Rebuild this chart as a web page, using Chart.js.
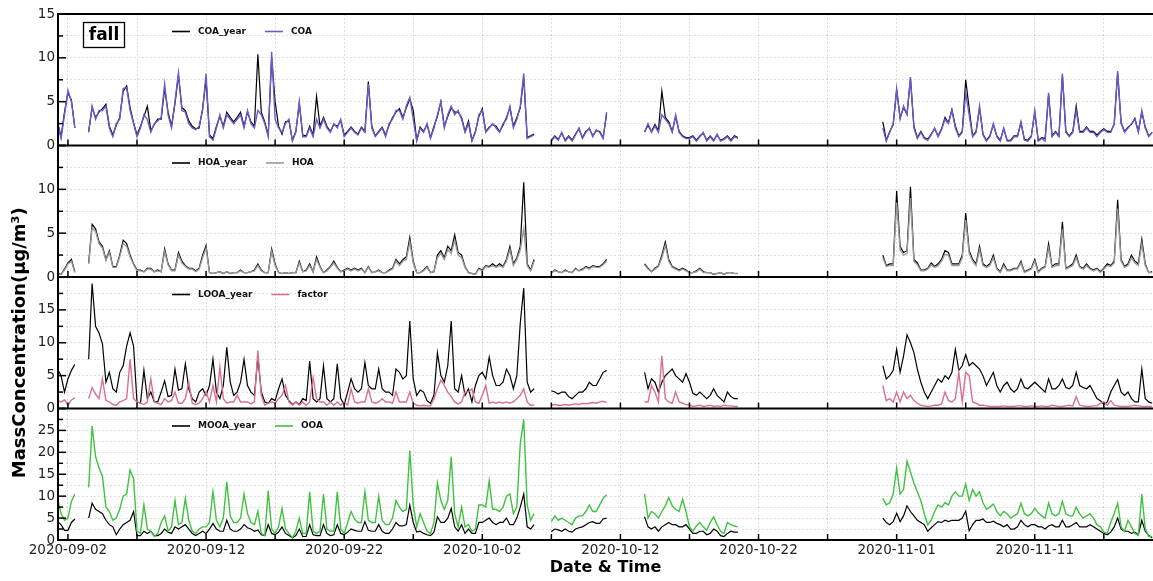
<!DOCTYPE html>
<html>
<head>
<meta charset="utf-8">
<script src="https://cdn.jsdelivr.net/npm/chart.js@4.4.1/dist/chart.umd.min.js"></script>
<style>
  html, body { margin: 0; padding: 0; background: #fff; }
  #wrap { width: 1153px; height: 581px; position: relative; }
</style>
</head>
<body>
<div id="wrap"><canvas id="c"></canvas></div>
<script>
// time axis: days after 2020-09-02 00:00, one value every 6 hours inside each measured block
const SEG_START = [-0.75, 1.5, 35.0, 41.75, 59.0];
const STEP = 0.25;

const COA = [
  [2.5,0.8,3.5, 6.3,5.0,2.0],
  [1.5,4.5,
   3.0,4.0,4.0,4.5, 2.0,1.0,2.5,3.0, 6.5,6.6,4.0,2.5, 1.0,2.0,3.5,3.0,
   1.5,2.5,2.8,3.2, 7.0,3.5,2.0,5.0, 8.3,4.0,3.8,2.5, 2.0,1.8,2.2,4.0,
   8.2,1.0,0.6,2.0, 3.5,2.0,3.5,3.0, 2.5,3.0,3.5,2.0, 4.0,2.5,2.0,4.0,
   3.5,2.5,1.0,10.7, 3.0,2.0,1.5,2.5, 3.0,0.5,1.5,5.0, 1.0,1.0,2.0,1.0,
   3.0,2.0,3.0,2.0, 1.5,2.5,2.0,3.0, 1.0,1.5,2.0,1.5, 1.2,2.0,1.5,7.0,
   2.0,1.0,1.5,2.0, 1.0,2.5,3.0,4.0, 4.0,3.0,4.5,5.5, 3.0,0.5,2.0,1.5,
   2.5,0.8,2.0,3.5, 5.0,2.0,3.5,4.5, 3.5,4.0,3.0,1.5, 2.5,0.5,1.5,3.5,
   4.0,1.5,2.0,2.5, 2.0,1.5,2.5,3.0, 4.5,2.0,3.0,4.5, 8.2,0.8,1.0,1.2],
  [0.5,1.0,0.6,1.5, 0.5,1.0,0.5,1.2, 2.0,0.8,1.5,2.0, 1.0,1.8,1.5,0.8, 3.8],
  [1.5, 2.5,1.5,2.2,1.5, 3.5,3.0,2.5,1.5, 3.5,1.5,1.0,0.8, 0.8,1.0,0.5,1.0, 1.5,0.5,1.0,0.5, 1.3,0.5,0.7,1.0, 0.5,1.0,0.8],
  [2.0,0.5,1.5,2.5, 6.5,3.0,4.5,3.5, 7.8,2.0,0.8,1.5, 0.8,0.6,1.2,2.0,
   1.0,1.8,3.0,2.5, 4.0,2.0,1.0,1.5, 6.0,3.5,1.0,1.5, 4.5,1.2,0.5,1.0,
   2.5,1.0,0.5,2.0, 0.5,0.5,1.0,1.0, 2.7,0.6,0.5,1.0, 4.0,0.5,0.8,0.5,
   6.0,1.0,1.5,1.0, 8.2,1.5,1.0,1.5, 4.0,1.5,1.5,2.0, 1.5,1.5,1.0,1.5,
   1.8,1.5,1.5,2.5, 8.5,2.5,1.5,2.0, 2.5,3.0,1.5,4.0, 2.0,1.0,1.5]
];
const COA_year = [
  [2.6,1.0,3.8, 6.0,5.2,2.0],
  [1.6,4.3,
   3.2,3.8,4.2,4.7, 2.2,1.2,2.3,3.2, 6.2,6.8,4.3,2.6, 1.2,2.2,3.3,4.5,
   1.7,2.4,3.0,3.0, 6.5,3.8,2.2,4.8, 8.0,4.3,4.0,2.8, 2.2,1.9,2.0,4.2,
   7.5,1.2,0.8,2.2, 3.3,2.2,3.8,3.2, 2.7,3.2,3.8,2.2, 3.8,2.7,2.2,10.4,
   3.8,2.7,1.2,10.0, 5.0,2.2,1.3,2.7, 2.8,0.6,1.6,4.8, 1.2,1.1,2.2,1.2,
   5.6,2.2,3.2,2.2, 1.6,2.4,2.2,2.8, 1.2,1.6,2.1,1.6, 1.3,2.1,1.6,7.3,
   2.2,1.1,1.6,2.1, 1.2,2.3,3.2,3.8, 4.2,3.2,4.3,5.3, 4.0,0.6,2.1,1.6,
   2.4,0.9,2.2,3.3, 5.0,2.2,3.3,4.3, 3.8,3.8,3.2,1.6, 2.8,0.6,1.6,3.3,
   4.2,1.6,2.1,2.4, 2.2,1.6,2.3,3.2, 4.3,2.2,3.2,4.3, 7.8,0.9,1.1,1.3],
  [0.6,1.1,0.7,1.4, 0.6,1.1,0.6,1.3, 1.9,0.9,1.6,1.9, 1.1,1.7,1.6,0.9, 3.6],
  [1.6, 2.3,1.6,2.4,1.7, 6.2,3.2,2.7,1.6, 3.3,1.6,1.1,0.9, 0.9,1.1,0.6,1.1, 1.4,0.6,1.1,0.6, 1.2,0.6,0.8,1.1, 0.6,1.1,0.9],
  [2.7,0.6,1.6,2.4, 6.3,3.2,4.3,3.6, 7.6,2.2,0.9,1.6, 0.9,0.7,1.3,1.9,
   1.1,1.9,3.2,2.6, 4.1,2.2,1.1,1.6, 7.5,4.2,1.1,1.6, 4.3,1.3,0.6,1.1,
   2.4,1.1,0.6,1.9, 0.6,0.6,1.1,1.1, 2.6,0.7,0.6,1.1, 3.8,0.6,0.9,0.8,
   5.8,1.1,1.6,1.1, 8.0,1.6,1.1,1.6, 4.5,1.6,1.6,2.1, 1.6,1.6,1.2,1.6,
   1.9,1.6,1.6,2.4, 8.3,2.6,1.6,2.1, 2.4,3.1,1.6,3.8, 2.1,1.1,1.5]
];
const HOA = [
  [0.3,0.3,0.8, 1.5,1.8,0.5],
  [1.5,5.6,
   5.2,3.8,3.3,1.9, 2.8,1.1,1.1,2.3, 3.8,3.5,2.3,1.4, 0.7,0.7,0.6,0.9,
   0.9,0.6,0.7,0.6, 2.9,1.4,0.7,0.7, 2.5,1.6,1.2,0.9, 0.9,0.6,0.9,2.2,
   3.3,0.5,0.4,0.5, 0.6,0.4,0.6,0.4, 0.5,0.5,0.7,0.5, 0.5,0.6,0.7,1.3,
   0.7,0.5,0.5,2.9, 1.3,0.5,0.4,0.5, 0.4,0.5,0.5,1.6, 0.6,0.7,1.3,0.6,
   2.0,1.1,0.5,0.7, 1.1,1.6,1.0,0.6, 0.7,0.9,0.7,0.9, 0.7,0.9,0.5,1.1,
   0.5,0.6,0.7,0.5, 0.5,0.7,0.9,1.8, 1.3,1.8,2.0,4.0, 1.6,0.5,0.5,0.7,
   1.1,0.5,0.6,2.2, 2.7,2.0,3.1,2.7, 4.2,2.5,2.2,1.1, 0.5,0.4,0.3,0.9,
   0.7,1.2,1.1,1.3, 1.1,1.3,1.1,1.8, 3.1,1.3,2.0,3.1, 5.5,1.3,0.7,1.8],
  [0.5,0.7,0.6,0.5, 0.7,0.6,0.5,0.9, 0.7,0.8,1.1,0.9, 1.2,1.1,1.1,1.4, 1.8],
  [1.4, 0.9,0.6,0.9,1.2, 2.2,3.6,1.8,1.1, 0.9,0.7,0.9,0.7, 0.5,0.5,0.6,0.9, 0.5,0.5,0.5,0.3, 0.4,0.5,0.3,0.5, 0.5,0.4,0.4],
  [2.2,1.2,1.3,1.3, 8.5,3.1,2.5,2.7, 9.0,1.8,1.4,0.7, 0.7,0.9,1.4,1.1,
   1.3,1.8,2.6,2.5, 1.3,1.3,1.3,2.2, 6.5,2.7,1.8,1.3, 3.1,1.3,1.1,1.3,
   2.2,0.9,0.5,1.3, 0.7,0.7,0.9,0.9, 1.6,0.5,0.7,0.9, 1.8,0.5,0.9,1.1,
   3.3,1.1,1.3,1.3, 5.5,0.9,1.1,1.3, 2.2,1.1,0.9,1.3, 0.9,0.7,0.9,0.5,
   0.9,1.3,1.2,1.6, 7.8,1.8,1.1,1.3, 2.2,1.6,1.3,3.8, 1.3,0.5,0.5]
];
const HOA_year = [
  [0.4,0.3,0.9, 1.6,2.0,0.6],
  [1.6,6.0,
   5.5,4.0,3.5,2.0, 3.0,1.2,1.2,2.5, 4.2,3.8,2.5,1.5, 0.8,0.8,0.6,1.0,
   1.0,0.6,0.8,0.6, 3.2,1.5,0.8,0.8, 2.8,1.8,1.3,1.0, 1.0,0.7,1.0,2.5,
   3.6,0.5,0.4,0.5, 0.6,0.4,0.6,0.4, 0.5,0.5,0.8,0.5, 0.5,0.6,0.8,1.5,
   0.8,0.5,0.5,3.2, 1.5,0.5,0.4,0.5, 0.4,0.5,0.5,1.8, 0.6,0.8,1.5,0.6,
   2.3,1.2,0.5,0.8, 1.2,1.8,1.1,0.6, 0.8,1.0,0.8,1.0, 0.8,1.0,0.5,1.2,
   0.5,0.6,0.8,0.5, 0.5,0.8,1.0,2.0, 1.5,2.0,2.3,4.5, 1.8,0.5,0.5,0.8,
   1.2,0.5,0.6,2.5, 3.0,2.2,3.5,3.0, 4.8,2.8,2.5,1.2, 0.5,0.4,0.3,1.0,
   0.8,1.3,1.2,1.5, 1.2,1.5,1.2,2.0, 3.5,1.5,2.2,3.5, 10.8,1.5,0.8,2.0],
  [0.5,0.8,0.6,0.5, 0.8,0.6,0.5,1.0, 0.7,0.9,1.2,1.0, 1.3,1.2,1.2,1.5, 2.0],
  [1.5, 1.0,0.6,1.0,1.3, 2.5,4.0,2.0,1.2, 1.0,0.8,1.0,0.8, 0.5,0.5,0.7,1.0, 0.6,0.5,0.5,0.3, 0.4,0.5,0.3,0.5, 0.5,0.4,0.4],
  [2.5,1.3,1.5,1.5, 9.8,3.5,2.8,3.0, 10.3,2.0,1.6,0.8, 0.8,1.0,1.6,1.2,
   1.5,2.0,3.0,2.8, 1.5,1.5,1.5,2.5, 7.3,3.0,2.0,1.5, 3.5,1.5,1.2,1.5,
   2.5,1.0,0.6,1.5, 0.8,0.8,1.0,1.0, 1.8,0.6,0.8,1.0, 2.0,0.6,1.0,1.2,
   3.8,1.2,1.5,1.5, 6.3,1.0,1.2,1.5, 2.5,1.2,1.0,1.5, 1.0,0.8,1.0,0.6,
   1.0,1.5,1.3,1.8, 8.8,2.0,1.2,1.5, 2.5,1.8,1.5,4.3, 1.5,0.5,0.6]
];
const LOOA_year = [
  [6.0,5.0,2.5, 4.5,5.8,6.7],
  [7.5,19.0,
   12.5,11.5,9.8,4.0, 5.5,3.0,2.5,5.5, 6.5,9.5,11.5,9.5, 1.0,0.8,5.8,1.5,
   2.5,1.0,1.0,2.5, 4.2,1.8,2.0,6.0, 2.8,3.0,6.8,3.0, 1.5,1.0,2.5,3.0,
   2.0,3.5,7.5,2.5, 1.5,3.5,9.3,4.0, 2.0,2.5,4.0,7.5, 3.5,2.5,2.0,7.8,
   2.5,1.0,0.8,1.5, 1.2,3.0,4.5,2.0, 1.2,0.6,1.0,0.6, 1.5,1.2,7.2,1.5,
   1.0,1.5,6.5,1.5, 1.0,1.5,6.8,1.5, 0.6,2.5,4.5,3.0, 2.5,3.0,7.0,3.5,
   3.0,3.0,6.0,3.0, 2.5,2.5,2.0,6.0, 5.5,4.5,5.0,13.3, 4.5,2.0,2.8,2.5,
   1.2,0.8,2.0,8.5, 5.0,4.0,6.5,13.3, 3.0,2.5,5.0,2.0, 3.0,1.0,3.5,5.0,
   5.5,4.5,7.8,5.0, 3.5,3.5,4.0,6.0, 5.0,3.0,5.0,13.0, 18.3,4.0,2.5,3.0],
  [2.7,2.5,2.2,2.5, 2.5,1.8,1.5,2.0, 2.5,2.5,3.0,4.0, 3.5,3.5,4.5,5.5, 5.8],
  [5.5, 3.0,4.5,4.0,2.5, 4.0,5.0,5.5,6.0, 5.0,4.5,4.0,5.3, 4.0,2.3,2.0,2.5, 2.0,1.5,2.0,3.0, 2.0,1.5,1.0,2.5, 1.8,1.5,1.5],
  [6.5,4.5,5.0,5.8, 9.0,5.5,8.0,11.2, 10.0,8.5,6.0,4.0, 2.5,1.5,2.5,3.5,
   4.5,4.0,5.0,4.5, 5.5,9.0,5.8,6.5, 8.2,6.5,7.0,6.5, 6.0,5.0,3.5,4.5,
   5.5,3.5,2.5,3.5, 4.0,3.0,2.5,3.0, 4.5,3.2,3.0,3.5, 4.0,3.5,3.0,2.5,
   4.5,3.0,3.0,3.5, 4.5,3.2,3.0,3.5, 5.5,3.5,3.2,3.0, 3.5,2.5,1.5,1.2,
   0.6,1.0,2.5,3.5, 4.4,2.5,2.0,2.5, 1.5,1.0,1.0,6.0, 1.5,1.0,0.8]
];
const factor = [
  [1.2,1.0,1.3, 0.5,1.3,1.6],
  [1.5,3.2,
   2.2,1.5,4.5,1.2, 1.0,0.6,0.5,1.0, 1.2,1.5,7.5,1.5, 1.0,0.8,0.6,1.0,
   4.5,1.0,0.8,0.6, 1.5,1.0,1.2,2.5, 0.8,0.8,1.5,4.0, 0.8,0.6,0.8,1.5,
   2.5,1.0,3.5,1.0, 6.3,1.5,0.8,1.0, 1.0,2.0,1.0,1.0, 1.0,0.7,1.0,8.8,
   2.0,0.5,0.8,1.0, 0.8,1.5,2.0,3.5, 1.0,0.5,1.0,0.5, 1.0,0.5,1.0,4.7,
   1.5,1.0,1.0,0.5, 1.0,0.5,1.0,0.5, 1.0,0.5,3.0,1.0, 0.8,1.0,1.0,3.0,
   1.0,0.8,1.0,1.5, 1.0,1.0,0.8,2.5, 1.0,1.0,1.0,2.5, 0.8,0.5,0.4,0.5,
   0.4,0.4,1.5,3.0, 4.3,3.5,2.5,1.8, 1.0,0.7,1.0,2.5, 2.5,3.0,1.0,0.8,
   2.0,3.5,0.8,1.0, 0.8,1.0,0.8,1.0, 0.8,1.0,1.5,2.0, 3.0,1.0,0.5,0.5],
  [0.5,0.6,0.5,0.5, 0.6,0.5,0.6,0.7, 0.6,0.8,0.7,0.8, 0.9,0.8,1.0,1.1, 0.9],
  [1.0, 1.0,3.5,2.5,1.0, 8.0,1.5,1.0,0.8, 2.5,1.0,0.8,0.6, 0.5,0.3,0.4,0.5, 0.3,0.4,0.5,0.3, 0.4,0.3,0.5,0.4, 0.4,0.3,0.3],
  [3.5,1.2,1.5,1.0, 2.5,1.0,2.5,1.5, 2.0,1.2,0.8,0.5, 0.4,0.3,0.4,0.5,
   0.5,0.7,2.5,1.2, 1.0,1.5,5.5,1.0, 5.5,5.0,1.0,0.8, 0.5,0.5,0.4,0.3,
   0.3,0.3,0.3,0.4, 0.3,0.3,0.3,0.4, 0.4,0.3,0.3,0.4, 0.3,0.3,0.4,0.3,
   0.3,0.5,0.4,0.3, 0.3,0.4,0.5,0.4, 1.8,0.5,0.4,0.3, 0.3,0.4,0.4,0.8,
   1.0,0.5,1.2,0.5, 0.4,0.3,0.3,0.3, 0.4,0.5,0.4,0.3, 0.3,0.3,0.3]
];
const OOA = [
  [9.5,6.0,4.5, 5.0,8.8,10.5],
  [12.0,26.0,
   19.0,16.5,14.5,7.5, 6.5,4.5,5.0,7.0, 10.0,10.5,16.0,14.0, 2.0,1.5,8.0,2.5,
   2.0,0.8,1.5,4.0, 5.5,2.0,3.0,9.0, 3.5,4.0,9.5,4.5, 2.0,1.5,2.5,3.0,
   3.0,4.0,11.0,4.5, 3.0,5.0,13.3,5.5, 4.0,4.0,5.0,10.5, 6.0,4.0,3.5,6.5,
   1.5,1.0,11.2,2.5, 1.5,3.0,7.2,2.5, 1.5,0.5,2.0,5.0, 1.5,1.5,11.0,2.0,
   1.5,2.0,10.5,2.5, 2.0,2.0,11.0,2.5, 1.5,4.0,6.5,4.8, 4.0,4.0,11.0,4.5,
   4.0,4.0,10.0,4.5, 3.5,3.5,5.0,9.0, 7.5,6.5,7.0,20.4, 8.0,3.0,6.0,4.0,
   2.0,1.5,4.0,13.0, 9.0,7.0,9.0,19.0, 6.0,3.0,7.5,3.0, 3.5,2.0,2.5,8.0,
   8.0,7.5,13.5,7.0, 7.0,6.5,7.5,10.0, 10.5,6.0,7.5,22.0, 27.5,8.0,4.5,6.0],
  [4.2,5.5,4.5,5.0, 4.5,4.0,3.5,5.0, 5.5,5.5,6.5,8.0, 6.5,6.5,8.0,9.5, 10.3],
  [10.5, 5.0,6.5,6.0,5.0, 6.5,7.8,9.7,7.8, 7.0,6.5,9.3,6.5, 3.0,2.0,3.2,4.0, 3.0,2.2,4.0,5.3, 3.5,2.0,1.5,4.0, 3.5,3.2,3.0],
  [9.5,8.0,8.5,10.5, 16.4,10.5,11.5,18.0, 15.5,13.0,11.0,9.0, 6.0,3.5,4.5,6.5,
   8.0,7.5,8.5,8.0, 10.0,11.0,10.0,10.0, 12.8,9.0,11.5,10.0, 11.0,8.5,7.0,7.5,
   8.2,6.5,5.5,6.5, 6.0,5.0,5.5,6.0, 8.4,6.0,5.5,6.0, 7.2,6.2,5.5,5.0,
   8.4,6.0,5.5,6.0, 8.8,6.0,5.5,5.5, 7.5,6.0,5.0,5.5, 6.0,5.0,3.5,3.0,
   1.8,1.5,4.0,6.0, 8.4,3.0,2.0,4.5, 3.0,1.5,1.0,10.5, 2.5,0.8,0.8]
];
const MOOA_year = [
  [4.2,3.5,2.2, 2.2,4.0,4.8],
  [5.0,8.4,
   7.0,6.5,6.0,4.5, 3.5,3.0,1.2,2.5, 3.5,4.0,4.5,6.5, 1.0,1.0,2.0,1.5,
   2.0,1.0,1.0,1.5, 2.5,1.8,1.5,3.0, 2.5,3.0,3.5,2.5, 1.5,1.0,1.5,2.0,
   1.5,2.5,3.8,2.5, 2.0,2.0,4.5,2.5, 2.0,2.0,2.5,3.5, 2.8,2.5,2.0,2.3,
   1.2,1.0,3.5,1.5, 1.2,1.8,3.0,1.5, 1.0,0.5,1.0,2.5, 0.8,0.8,3.5,1.2,
   1.0,1.0,3.5,1.5, 1.0,1.2,3.5,1.5, 1.2,1.8,2.5,2.2, 2.0,2.0,4.2,2.2,
   2.0,2.0,3.5,2.0, 1.5,1.5,2.5,4.0, 3.2,3.2,3.5,8.0, 4.0,1.8,2.0,1.5,
   1.2,1.0,1.8,5.3, 4.0,4.0,5.0,7.2, 3.0,2.0,3.5,1.5, 2.5,1.5,1.5,4.0,
   4.0,4.5,5.0,4.0, 3.5,4.0,4.0,5.0, 3.5,3.5,5.0,7.5, 10.5,3.0,2.5,3.5],
  [1.9,2.5,2.3,2.0, 2.5,2.0,1.8,2.5, 2.8,3.0,3.5,4.0, 4.2,3.8,3.8,4.8, 5.0],
  [5.3, 3.0,2.5,3.0,2.0, 3.0,3.5,4.0,3.5, 3.5,3.0,3.0,3.5, 2.5,1.5,1.5,2.0, 2.0,1.2,1.5,2.5, 2.0,1.0,0.8,1.5, 2.0,1.8,1.8],
  [5.0,4.0,3.5,4.2, 6.1,4.2,5.5,7.8, 6.5,5.5,4.5,4.0, 3.5,2.0,2.8,3.5,
   4.2,4.0,4.5,4.2, 4.5,4.5,4.5,5.0, 6.6,2.1,3.5,4.5, 4.5,4.8,4.0,4.0,
   4.3,3.8,3.5,3.0, 3.5,2.5,2.5,3.0, 4.5,3.5,3.0,3.5, 3.5,3.0,3.0,2.5,
   3.2,3.5,3.0,3.0, 4.5,3.0,3.0,3.5, 4.0,3.0,3.0,3.0, 3.5,3.0,2.5,2.0,
   1.5,1.2,1.8,3.0, 5.0,2.5,2.0,2.0, 1.5,1.8,1.2,4.5, 2.0,1.0,0.5]
];

const PANELS = [
  {id: 'p1', max: 15, series: [{label: 'COA_year', data: COA_year, color: '#000000'}, {label: 'COA', data: COA, color: '#6a5acd'}]},
  {id: 'p2', max: 15, series: [{label: 'HOA_year', data: HOA_year, color: '#000000'}, {label: 'HOA', data: HOA, color: '#999999'}]},
  {id: 'p3', max: 20, series: [{label: 'LOOA_year', data: LOOA_year, color: '#000000'}, {label: 'factor', data: factor, color: '#d9708f'}]},
  {id: 'p4', max: 30, series: [{label: 'MOOA_year', data: MOOA_year, color: '#000000'}, {label: 'OOA', data: OOA, color: '#3fc23f'}]}
];

const FONT = 'DejaVu Sans';

function toPoints(segs) {
  const pts = [];
  segs.forEach((seg, i) => {
    seg.forEach((v, j) => pts.push({x: SEG_START[i] + j * STEP, y: v}));
    if (i < segs.length - 1) pts.push({x: SEG_START[i] + seg.length * STEP, y: null});
  });
  return pts;
}

function dayLabel(v) {
  const d = new Date(Date.UTC(2020, 8, 2) + v * 86400000);
  return d.toISOString().slice(0, 10);
}

const panelDecor = {
  id: 'panelDecor',
  afterDatasetsDraw(chart) {
    const ctx = chart.ctx;
    const area = chart.chartArea;
    const xs = chart.scales.x;
    const seg = (x1, y1, x2, y2) => { ctx.beginPath(); ctx.moveTo(x1, y1); ctx.lineTo(x2, y2); ctx.stroke(); };
    ctx.save();
    ctx.strokeStyle = '#000';
    PANELS.forEach(p => {
      const ys = chart.scales[p.id];
      ctx.lineWidth = 1.5;
      xs.ticks.forEach(t => {
        const x = xs.getPixelForValue(t.value);
        seg(x, ys.bottom, x, ys.bottom - 6);
      });
      ys.ticks.forEach(t => {
        const y = ys.getPixelForValue(t.value);
        seg(area.left, y, area.left + (t.value % 5 === 0 ? 8 : 5), y);
      });
      ctx.lineWidth = 2;
      seg(area.left - 1, ys.top, area.right, ys.top);
    });
    ctx.lineWidth = 2;
    seg(area.left - 1, area.bottom, area.right, area.bottom);
    seg(area.left, area.top - 1, area.left, area.bottom + 1);

    // one legend per panel
    ctx.font = 'bold 9px "' + FONT + '"';
    ctx.textBaseline = 'middle';
    ctx.textAlign = 'left';
    PANELS.forEach(p => {
      const ys = chart.scales[p.id];
      const y = ys.top + 17.5;
      let x = 172;
      p.series.forEach(s => {
        ctx.strokeStyle = s.color;
        ctx.lineWidth = 1.6;
        seg(x, y, x + 18, y);
        ctx.fillStyle = '#111';
        ctx.fillText(s.label, x + 26, y);
        x += 26 + ctx.measureText(s.label).width + 19;
      });
    });

    // season tag
    ctx.strokeStyle = '#000';
    ctx.lineWidth = 1.3;
    ctx.strokeRect(83.5, 22.5, 41, 25);
    ctx.fillStyle = '#000';
    ctx.font = 'bold 17px "' + FONT + '"';
    ctx.textAlign = 'center';
    ctx.fillText('fall', 104, 35.5);
    ctx.restore();
  }
};

function build(order) {
  const datasets = [];
  PANELS.forEach(p => {
    p.series.forEach((s, k) => {
      datasets.push({
        label: s.label,
        data: toPoints(s.data),
        yAxisID: p.id,
        xAxisID: 'x',
        borderColor: s.color,
        borderWidth: k === 0 ? 1.2 : 1.4,
        pointRadius: 0,
        tension: 0,
        spanGaps: false,
        order: k === 0 ? 1 : 0
      });
    });
  });

  const scales = {
    x: {
      type: 'linear', position: 'bottom', min: -0.72, max: 78.56,
      afterFit: s => { s.height = 41; },
      grid: {color: 'rgba(0,0,0,0.13)', lineWidth: 1, drawTicks: false},
      border: {display: false, dash: [2, 2]},
      ticks: {
        stepSize: 5, includeBounds: false, autoSkip: false, maxRotation: 0, padding: 2,
        color: '#222', font: {family: FONT, size: 13.5},
        callback: v => (Math.round(v) % 10 === 0 ? dayLabel(v) : '')
      },
      title: {display: true, text: 'Date & Time', color: '#000',
        font: {family: FONT, size: 16, weight: 'bold'}, padding: {top: 0, bottom: 4}}
    }
  };
  order.forEach(i => {
    const p = PANELS[i];
    scales[p.id] = {
      type: 'linear', position: 'left', stack: 'panels', stackWeight: 1,
      min: 0, max: p.max,
      afterFit: s => { s.width = 58; },
      grid: {color: 'rgba(0,0,0,0.13)', lineWidth: 1, drawTicks: false},
      border: {display: false, dash: [2, 2]},
      ticks: {
        stepSize: 2.5, autoSkip: false, padding: 3, color: '#222',
        font: {family: FONT, size: 13.5},
        callback: v => (v % 5 === 0 && (v < p.max || i === 0) ? v : '')
      },
      title: i === 2
        ? {display: true, text: 'MassConcentration(μg/m³)', color: '#000',
           font: {family: FONT, size: 18, weight: 'bold'}, padding: {top: 10, bottom: 0}}
        : {display: false}
    };
  });

  return new Chart(document.getElementById('c'), {
    type: 'line',
    data: {datasets},
    options: {
      responsive: true,
      maintainAspectRatio: false,
      animation: false,
      devicePixelRatio: 1,
      layout: {padding: {top: 14, left: 0, right: 0, bottom: 0}},
      plugins: {legend: {display: false}, tooltip: {enabled: false}},
      scales
    },
    plugins: [panelDecor]
  });
}

let chart = build([3, 2, 1, 0]);
if (chart.scales.p1.top > chart.scales.p4.top) {
  chart.destroy();
  chart = build([0, 1, 2, 3]);
}
</script>
</body>
</html>
